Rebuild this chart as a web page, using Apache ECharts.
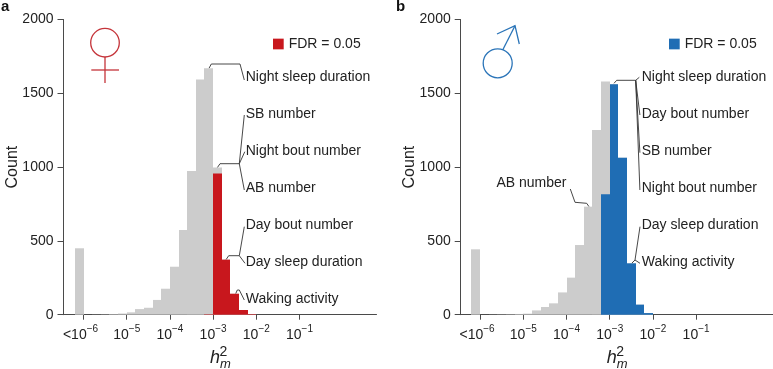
<!DOCTYPE html>
<html><head><meta charset="utf-8">
<style>html,body{margin:0;padding:0;background:#fff}#c{width:773px;height:369px}</style>
<script src="https://cdn.jsdelivr.net/npm/echarts@6/dist/echarts.min.js"></script>
</head><body><div id="c"></div>
<script>
// bin edges are log10(h2m); each bin is 0.2 decades wide
var binStarts = [-6.2,-5.8,-5.6,-5.4,-5.2,-5.0,-4.8,-4.6,-4.4,-4.2,-4.0,-3.8,-3.6,-3.4,-3.2,-3.0,-2.8,-2.6,-2.4,-2.2];
var binWidth = 0.2;
var femaleAll = [450,1,2,4,8,16,38,47,100,176,325,574,974,1593,1670,997,373,142,32,4];
var femaleSig = [0,0,0,0,0,0,0,0,0,0,0,0,0,0,3,956,373,142,32,4];
var maleAll   = [443,1,2,3,5,7,29,52,77,151,251,472,732,1252,1580,1562,1064,348,68,11];
var maleSig   = [0,0,0,0,0,0,0,0,0,0,0,0,0,0,816,1562,1064,348,68,11];
var xTickValues = [-6,-5,-4,-3,-2,-1];
var xTickLabels = ['{b|<10}{p|\u22126}','{b|10}{s|\u22125}','{b|10}{s|\u22124}','{b|10}{s|\u22123}','{b|10}{s|\u22122}','{b|10}{s|\u22121}'];
var yTicks = [0,500,1000,1500,2000];
var legendText = 'FDR = 0.05';
var femaleNotes = ['Night sleep duration','SB number','Night bout number','AB number','Day bout number','Day sleep duration','Waking activity'];
var maleNotes = ['Night sleep duration','Day bout number','SB number','Night bout number','Day sleep duration','Waking activity'];
var maleLeftNote = 'AB number';

var FONT = '"Liberation Sans", Arial, sans-serif';
var GREY = '#cccccc', RED = '#c8171d', BLUE = '#1f6db4';
var AXIS = '#4a4a4a', INK = '#222222';
var noteY = [77,114.3,151.3,188,225,262,298.7];

function pairs(vals){ return vals.map(function(v,i){ return [binStarts[i], binStarts[i]+binWidth, v]; }).filter(function(d){return d[2]>0;}); }
function renderBin(params, api){
  var a = api.coord([api.value(0), api.value(2)]);
  var b = api.coord([api.value(1), 0]);
  var x0 = Math.round(a[0]), x1 = Math.round(b[0]);
  return {type:'rect', shape:{x:x0, y:a[1], width:x1-x0, height:b[1]-a[1]}, style:{fill:api.visual('color')}};
}
function binSeries(name, vals, color, idx, z){
  return {type:'custom', name:name, xAxisIndex:idx, yAxisIndex:idx, renderItem:renderBin, data:pairs(vals),
    encode:{x:[0,1],y:2}, itemStyle:{color:color}, z:z, silent:true, animation:false, clip:false};
}
function xAxis(idx, min, max){
  return {type:'value', gridIndex:idx, min:min, max:max, splitLine:{show:false},
    axisLine:{onZero:false, lineStyle:{color:AXIS,width:1}},
    axisTick:{show:true, length:5, lineStyle:{color:AXIS,width:1}, customValues:xTickValues},
    axisLabel:{show:true, customValues:xTickValues, margin:10, hideOverlap:false, showMinLabel:true, showMaxLabel:true,
      color:INK, fontFamily:FONT, fontSize:14,
      formatter:function(v){ return xTickLabels[xTickValues.indexOf(v)] || ''; },
      rich:{
        b:{fontFamily:FONT,fontSize:14,color:INK,lineHeight:20,verticalAlign:'middle'},
        s:{fontFamily:FONT,fontSize:10,color:INK,lineHeight:10,verticalAlign:'top'},
        p:{fontFamily:FONT,fontSize:10,color:INK,lineHeight:10,verticalAlign:'top',padding:[0,6,0,0]}
      }}};
}
function yAxis(idx){
  return {type:'value', gridIndex:idx, min:0, max:2000, interval:500, splitLine:{show:false},
    name:'Count', nameLocation:'middle', nameGap:43, nameRotate:90, nameMoveOverlap:false,
    nameTextStyle:{color:INK,fontFamily:FONT,fontSize:16},
    axisLine:{show:true,onZero:false,lineStyle:{color:AXIS,width:1}},
    axisTick:{show:true,length:6,lineStyle:{color:AXIS,width:1}},
    axisLabel:{margin:10,color:INK,fontFamily:FONT,fontSize:14,
      formatter:function(v){ return yTicks.indexOf(v)>=0 ? String(v) : ''; }}};
}
function legend(left, color){
  return {left:left, top:37, padding:0, itemWidth:10.7, itemHeight:10.7, icon:'rect', selectedMode:false,
    data:[{name:legendText, itemStyle:{color:color}}],
    textStyle:{color:INK,fontFamily:FONT,fontSize:14,padding:[1,0,0,0]}};
}
function noteText(t,x,y,align){
  return {type:'text', silent:true, style:{text:t,x:x,y:y,align:align||'left',verticalAlign:'middle',font:'14px '+FONT,fill:INK}};
}
function leader(pts){
  return {type:'polyline', silent:true, shape:{points:pts}, style:{stroke:'#333333',lineWidth:0.9,fill:'none'}};
}
function axisTitle(dx){
  return [
    {type:'text',silent:true,style:{text:'h',x:210+dx,y:358,verticalAlign:'middle',font:'italic 18px '+FONT,fill:INK}},
    {type:'text',silent:true,style:{text:'2',x:219.5+dx,y:352,verticalAlign:'middle',font:'14px '+FONT,fill:INK}},
    {type:'text',silent:true,style:{text:'m',x:220+dx,y:364,verticalAlign:'middle',font:'italic 13px '+FONT,fill:INK}}
  ];
}
function letter(t,x){ return {type:'text',silent:true,style:{text:t,x:x,y:7,verticalAlign:'middle',font:'bold 15px '+FONT,fill:'#111'}}; }
function symbolStroke(c){ return {stroke:c,lineWidth:1.3,fill:'none'}; }

var graphics = [letter('a',1), letter('b',396)]
 .concat(axisTitle(0), axisTitle(396.7))
 .concat(femaleNotes.map(function(t,i){ return noteText(t,245.7,noteY[i]); }))
 .concat(maleNotes.map(function(t,i){ return noteText(t,641.7,noteY[i]); }))
 .concat([noteText(maleLeftNote,566.5,183,'right')])
 .concat([
  // panel a callouts
  leader([[209,68.3],[211.3,64],[240,64],[244.3,80]]),
  leader([[217.3,167.7],[220,163.7],[239.3,163.7]]),
  leader([[244.3,115],[239.3,163.7],[244.8,151.7]]),
  leader([[239.3,163.7],[244.3,190]]),
  leader([[226,259.7],[228.7,255.7],[239.3,255.7]]),
  leader([[244.3,226.7],[239.3,255.7],[245,263.3]]),
  leader([[235.7,293.7],[237.3,290],[239.3,290],[244.3,300]]),
  // panel b callouts
  leader([[614,83.3],[616.7,80.3],[635.7,80.3],[639.3,77.3]]),
  leader([[639.9,115],[635.7,80.3],[639.9,152.7]]),
  leader([[635.7,80.3],[639.9,190]]),
  leader([[631.7,263.3],[635,260],[640,263.3]]),
  leader([[635,260],[640,226.7]]),
  leader([[570.3,189],[575,202.3],[586.7,203.3],[589,206.7]]),
  // female symbol
  {type:'circle',silent:true,shape:{cx:105,cy:42.7,r:14.3},style:symbolStroke('#c5343a')},
  {type:'line',silent:true,shape:{x1:105,y1:57,x2:105,y2:83},style:symbolStroke('#c5343a')},
  {type:'line',silent:true,shape:{x1:91.3,y1:70,x2:119,y2:70},style:symbolStroke('#c5343a')},
  // male symbol
  {type:'circle',silent:true,shape:{cx:497.7,cy:63.3,r:14.5},style:symbolStroke('#2a74b8')},
  {type:'line',silent:true,shape:{x1:502.7,y1:50,x2:515,y2:25.7},style:symbolStroke('#2a74b8')},
  {type:'polyline',silent:true,shape:{points:[[497,34],[515,25.7],[519.3,44]]},style:symbolStroke('#2a74b8')}
 ]);

var chart = echarts.init(document.getElementById('c'), null, {renderer:'canvas'});
chart.setOption({
  animation:false, backgroundColor:'#ffffff',
  grid:[
    {left:63.5, top:19.5, width:313, height:295.2, containLabel:false},
    {left:460.7, top:19.5, width:312, height:295.2, containLabel:false}
  ],
  xAxis:[xAxis(0,-6.463,0.782), xAxis(1,-6.449,0.773)],
  yAxis:[yAxis(0), yAxis(1)],
  legend:[legend(273,RED), legend(669,BLUE)],
  series:[
    binSeries('All female',femaleAll,GREY,0,2),
    binSeries(legendText,femaleSig,RED,0,3),
    binSeries('All male',maleAll,GREY,1,2),
    binSeries(legendText,maleSig,BLUE,1,3)
  ],
  graphic:{elements:graphics}
});
</script></body></html>
